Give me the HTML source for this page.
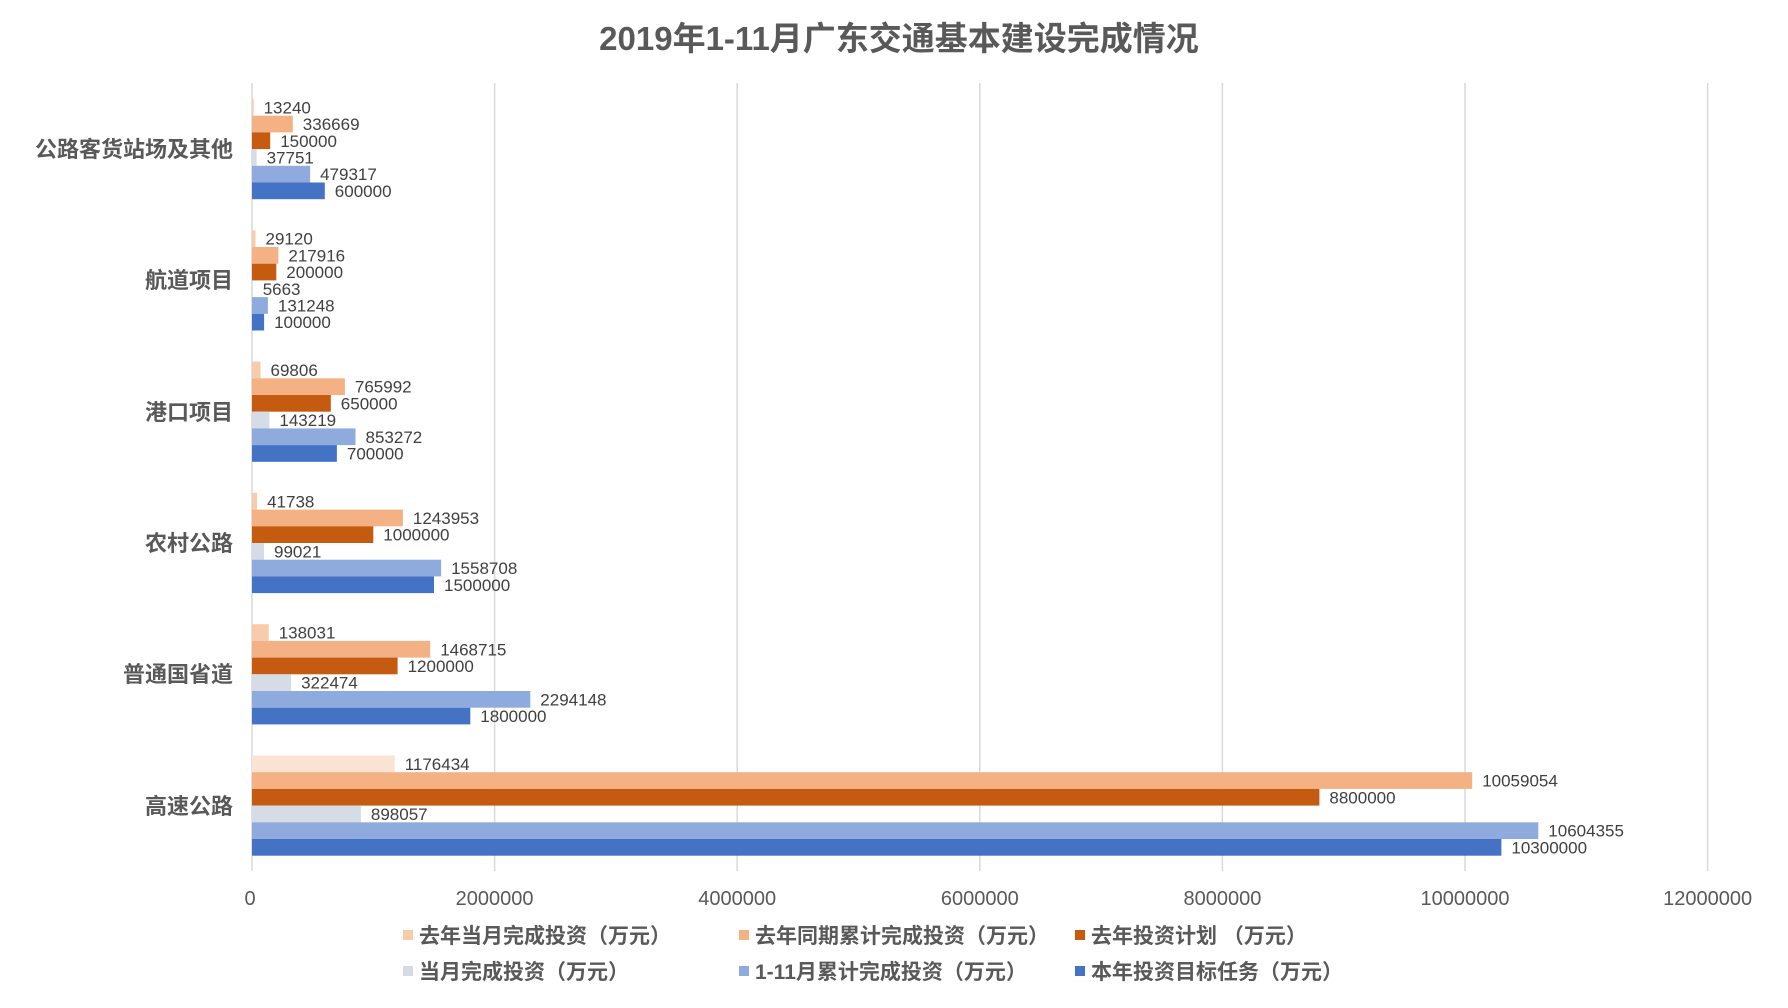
<!DOCTYPE html>
<html><head><meta charset="utf-8"><style>
body{margin:0;background:#fff}
svg text{font-family:"Liberation Sans","Noto Sans CJK SC",sans-serif;fill:#595959}
.d{font-size:17px;font-family:"Liberation Sans Narrow","Liberation Sans",sans-serif;fill:#404040}
.c{font-size:22px;font-weight:bold;text-anchor:end}
.t{font-size:20px;text-anchor:middle;font-family:"Liberation Sans Narrow","Liberation Sans",sans-serif}
.l{font-size:21px;font-weight:bold}
</style></head><body>
<svg width="1788" height="1003" xmlns="http://www.w3.org/2000/svg">
<text x="899" y="50" style="font-size:33px;font-weight:bold;text-anchor:middle">2019年1-11月广东交通基本建设完成情况</text>
<g stroke="#d9d9d9" stroke-width="1.5">
<line x1="494.6" y1="83" x2="494.6" y2="871"/><line x1="737.2" y1="83" x2="737.2" y2="871"/><line x1="979.8" y1="83" x2="979.8" y2="871"/><line x1="1222.4" y1="83" x2="1222.4" y2="871"/><line x1="1465" y1="83" x2="1465" y2="871"/><line x1="1707.6" y1="83" x2="1707.6" y2="871"/><line x1="252" y1="83" x2="252" y2="871"/>
</g>
<g id="bars">
<g transform="translate(252,99)">
<rect y="0" width="1.6" height="16.7" fill="#F8CBAD"/><rect y="16.7" width="40.8" height="16.7" fill="#F4B183"/><rect y="33.4" width="18.2" height="16.7" fill="#C55A11"/><rect y="50.1" width="4.6" height="16.7" fill="#D6DCE5"/><rect y="66.8" width="58.1" height="16.7" fill="#8FAADC"/><rect y="83.5" width="72.8" height="16.7" fill="#4472C4"/>
<text class="d" x="11.6" y="14.4">13240</text><text class="d" x="50.8" y="31.1">336669</text><text class="d" x="28.2" y="47.8">150000</text><text class="d" x="14.6" y="64.5">37751</text><text class="d" x="68.1" y="81.2">479317</text><text class="d" x="82.8" y="97.9">600000</text>
</g>
<g transform="translate(252,230.3)">
<rect y="0" width="3.5" height="16.7" fill="#F8CBAD"/><rect y="16.7" width="26.4" height="16.7" fill="#F4B183"/><rect y="33.4" width="24.3" height="16.7" fill="#C55A11"/><rect y="50.1" width="0.7" height="16.7" fill="#D6DCE5"/><rect y="66.8" width="15.9" height="16.7" fill="#8FAADC"/><rect y="83.5" width="12.1" height="16.7" fill="#4472C4"/>
<text class="d" x="13.5" y="14.4">29120</text><text class="d" x="36.4" y="31.1">217916</text><text class="d" x="34.3" y="47.8">200000</text><text class="d" x="10.7" y="64.5">5663</text><text class="d" x="25.9" y="81.2">131248</text><text class="d" x="22.1" y="97.9">100000</text>
</g>
<g transform="translate(252,361.6)">
<rect y="0" width="8.5" height="16.7" fill="#F8CBAD"/><rect y="16.7" width="92.9" height="16.7" fill="#F4B183"/><rect y="33.4" width="78.8" height="16.7" fill="#C55A11"/><rect y="50.1" width="17.4" height="16.7" fill="#D6DCE5"/><rect y="66.8" width="103.5" height="16.7" fill="#8FAADC"/><rect y="83.5" width="84.9" height="16.7" fill="#4472C4"/>
<text class="d" x="18.5" y="14.4">69806</text><text class="d" x="102.9" y="31.1">765992</text><text class="d" x="88.8" y="47.8">650000</text><text class="d" x="27.4" y="64.5">143219</text><text class="d" x="113.5" y="81.2">853272</text><text class="d" x="94.9" y="97.9">700000</text>
</g>
<g transform="translate(252,492.9)">
<rect y="0" width="5.1" height="16.7" fill="#F8CBAD"/><rect y="16.7" width="150.9" height="16.7" fill="#F4B183"/><rect y="33.4" width="121.3" height="16.7" fill="#C55A11"/><rect y="50.1" width="12" height="16.7" fill="#D6DCE5"/><rect y="66.8" width="189.1" height="16.7" fill="#8FAADC"/><rect y="83.5" width="182" height="16.7" fill="#4472C4"/>
<text class="d" x="15.1" y="14.4">41738</text><text class="d" x="160.9" y="31.1">1243953</text><text class="d" x="131.3" y="47.8">1000000</text><text class="d" x="22" y="64.5">99021</text><text class="d" x="199.1" y="81.2">1558708</text><text class="d" x="192" y="97.9">1500000</text>
</g>
<g transform="translate(252,624.2)">
<rect y="0" width="16.7" height="16.7" fill="#F8CBAD"/><rect y="16.7" width="178.2" height="16.7" fill="#F4B183"/><rect y="33.4" width="145.6" height="16.7" fill="#C55A11"/><rect y="50.1" width="39.1" height="16.7" fill="#D6DCE5"/><rect y="66.8" width="278.3" height="16.7" fill="#8FAADC"/><rect y="83.5" width="218.3" height="16.7" fill="#4472C4"/>
<text class="d" x="26.7" y="14.4">138031</text><text class="d" x="188.2" y="31.1">1468715</text><text class="d" x="155.6" y="47.8">1200000</text><text class="d" x="49.1" y="64.5">322474</text><text class="d" x="288.3" y="81.2">2294148</text><text class="d" x="228.3" y="97.9">1800000</text>
</g>
<g transform="translate(252,755.5)">
<rect y="0" width="142.7" height="16.7" fill="#FBE3D4"/><rect y="16.7" width="1220.2" height="16.7" fill="#F4B183"/><rect y="33.4" width="1067.4" height="16.7" fill="#C55A11"/><rect y="50.1" width="108.9" height="16.7" fill="#D6DCE5"/><rect y="66.8" width="1286.3" height="16.7" fill="#8FAADC"/><rect y="83.5" width="1249.4" height="16.7" fill="#4472C4"/>
<text class="d" x="152.7" y="14.4">1176434</text><text class="d" x="1230.2" y="31.1">10059054</text><text class="d" x="1077.4" y="47.8">8800000</text><text class="d" x="118.9" y="64.5">898057</text><text class="d" x="1296.3" y="81.2">10604355</text><text class="d" x="1259.4" y="97.9">10300000</text>
</g>
</g>
<text class="c" x="233" y="157">公路客货站场及其他</text>
<text class="c" x="233" y="288">航道项目</text>
<text class="c" x="233" y="420">港口项目</text>
<text class="c" x="233" y="551">农村公路</text>
<text class="c" x="233" y="682">普通国省道</text>
<text class="c" x="233" y="814">高速公路</text>
<text class="t" x="250" y="905">0</text><text class="t" x="494.6" y="905">2000000</text><text class="t" x="737.2" y="905">4000000</text><text class="t" x="979.8" y="905">6000000</text><text class="t" x="1222.4" y="905">8000000</text><text class="t" x="1465" y="905">10000000</text><text class="t" x="1707.6" y="905">12000000</text>
<rect x="403" y="930" width="10" height="10" fill="#F8CBAD"/><text class="l" x="419" y="943">去年当月完成投资（万元）</text>
<rect x="739" y="930" width="10" height="10" fill="#F4B183"/><text class="l" x="755" y="943">去年同期累计完成投资（万元）</text>
<rect x="1075" y="930" width="10" height="10" fill="#C55A11"/><text class="l" x="1091" y="943">去年投资计划 （万元）</text>
<rect x="403" y="966" width="10" height="10" fill="#D6DCE5"/><text class="l" x="419" y="979">当月完成投资（万元）</text>
<rect x="739" y="966" width="10" height="10" fill="#8FAADC"/><text class="l" x="755" y="979">1-11月累计完成投资（万元）</text>
<rect x="1075" y="966" width="10" height="10" fill="#4472C4"/><text class="l" x="1091" y="979">本年投资目标任务（万元）</text>
</svg>
</body></html>
